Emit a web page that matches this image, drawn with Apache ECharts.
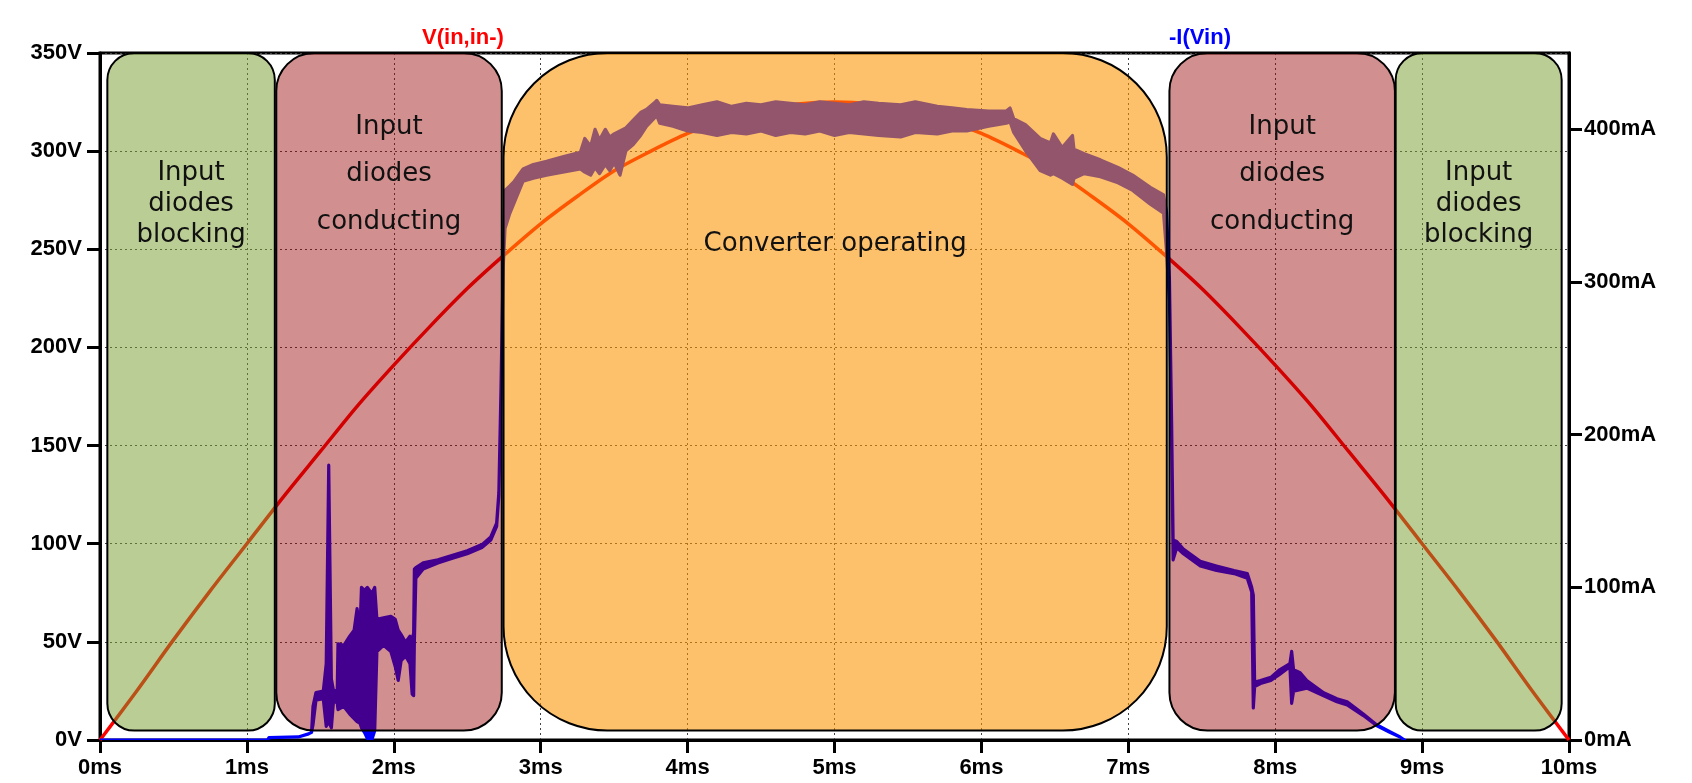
<!DOCTYPE html>
<html><head><meta charset="utf-8">
<script src="https://cdn.jsdelivr.net/npm/echarts@6/dist/echarts.min.js"></script>
<style>html,body{margin:0;padding:0;background:#fff}#c{width:1692px;height:783px}</style>
</head><body><div id="c"></div>
<script>
// ---- data ----
// input voltage V(in,in-) [V] vs time [ms]
const vTime = [0,0.25,0.5,0.75,1,1.25,1.5,1.75,2,2.25,2.5,2.75,3,3.25,3.5,3.75,4,4.25,4.5,4.75,5,
               5.25,5.5,5.75,6,6.25,6.5,6.75,7,7.25,7.5,7.75,8,8.25,8.5,8.75,9,9.25,9.5,9.75,10];
const vVolt = [0,25,51,76,100,124,147,170,191,211,230,247,263,277,290,300,309,316,321,324,325,
               324,321,316,309,300,290,277,263,247,230,211,191,170,147,124,100,76,51,25,0];

// input current -I(Vin) [mA]: lower and upper edge of the drawn (noisy) trace
const iTime = [0,1.14,1.15,1.35,1.42,1.44,1.45,1.47,1.52,1.54,1.557,1.575,1.59,1.615,1.62,1.66,1.70,1.73,1.75,1.77,1.78,1.80,1.82,1.85,1.87,1.885,1.93,1.98,2.01,2.03,2.05,2.08,2.11,2.125,2.135,2.14,2.15,2.20,2.30,2.40,2.50,2.60,2.66,2.70,2.715,2.73,2.745,2.757,2.79,2.82,2.88,2.95,3.04,3.15,3.27,3.30,3.34,3.37,3.40,3.44,3.47,3.50,3.54,3.58,3.63,3.68,3.72,3.78,3.79,3.81,3.90,4.00,4.10,4.20,4.30,4.40,4.50,4.60,4.70,4.80,4.90,5.00,5.10,5.20,5.30,5.45,5.55,5.70,5.80,5.90,6.05,6.17,6.195,6.22,6.30,6.40,6.47,6.49,6.55,6.62,6.63,6.70,6.81,6.93,7.03,7.15,7.24,7.26,7.28,7.295,7.305,7.33,7.375,7.49,7.60,7.72,7.81,7.84,7.851,7.86,7.90,7.97,8.03,8.10,8.112,8.125,8.17,8.215,8.33,8.42,8.49,8.60,8.69,8.78,8.85,8.88];
const iLow  = [0,0,1.5,2,4,5,10,26,27,9,12,8,26,24,20,22,17,14,12,11,8,5,1,0,6,58,62,58,48,39,52,55,50,30,29,64,106,112,116,119,122,126,131,140,160,230,310,335,345,352,366,368,370,372,374,372,370,375,371,377,373,378,370,386,390,396,402,408,409,404,402,399,398,396,398,397,399,396,398,397,399,396,398,397,396,395,398,397,399,399,402,404,405,398,386,373,370,371,368,364,368,371,369,365,360,351,345,320,288,200,118,126,122,114,111,109,106,97,21,35,37,39,43,48,24,32,33,34,29,25,23,16,9.5,5,2,0];
const iHigh = [0,0,1.5,2,4,5,22,31,32,50,180,40,32,33,63,62,68,72,86,72,100,98,100,96,100,79,80,81,79,72,69,64,68,66,70,112,113,116,118,121,124,128,133,142,162,232,315,360,363,366,374,377,379,382,385,394,389,400,393,400,395,397,399,401,406,411,413,418,419,416,415,414,416,418,415,417,416,418,417,416,418,417,416,418,417,416,418,415,414,413,412,412,414,407,403,394,391,397,388,396,387,384,380,375,370,362,357,346,302,207,131,130,125,117,114,111,109,100,95,38,39,41,46,50,58,46,44,39,31,27,25,17,10,5.5,2,0];

// operating phases shown as shaded boxes
const boxStart = [0.05, 1.2, 2.747, 7.28, 8.82];
const boxEnd   = [1.19, 2.735, 7.262, 8.815, 9.95];
const boxLabel = ['Input\ndiodes\nblocking','Input\ndiodes\nconducting','Converter operating','Input\ndiodes\nconducting','Input\ndiodes\nblocking'];
const boxKind  = ['blocking','conducting','operating','conducting','blocking'];

// tick labels
const timeTicks = [0,1,2,3,4,5,6,7,8,9,10];
const voltTicks = [0,50,100,150,200,250,300,350];
const currTicks = [0,100,200,300,400];

// ---- styles ----
const BOX_BOTTOM = 4.8, BOX_TOP = 350;
const KIND_STYLE = {
  blocking:   {fill:'rgba(120,157,45,0.51)', r:27,  labelV:273, lh:31},
  conducting: {fill:'rgba(152,0,0,0.44)',   r:38,  labelV:288, lh:47.5},
  operating:  {fill:'rgba(252,147,0,0.58)', r:104, labelV:252.5, lh:30}
};
const AX_FONT = {fontFamily:'Liberation Sans', fontWeight:'bold', fontSize:22, color:'#000'};
const GRID_LINE = {show:true, lineStyle:{color:'#444', width:1, type:[2,3]}};

const chart = echarts.init(document.getElementById('c'), null, {renderer:'canvas'});

function renderBox(params, api) {
  const i = params.dataIndex;
  const st = KIND_STYLE[boxKind[i]];
  const p0 = api.coord([api.value(0), api.value(3)]);
  const p1 = api.coord([api.value(1), api.value(2)]);
  const cx = (p0[0] + p1[0]) / 2;
  const ty = api.coord([api.value(0), st.labelV])[1];
  return {
    type:'group',
    children:[
      {type:'rect', shape:{x:p0[0], y:p0[1], width:p1[0]-p0[0], height:p1[1]-p0[1], r:st.r},
       style:{fill:st.fill, stroke:'#000', lineWidth:2}},
      {type:'text', x:cx, y:ty,
       style:{text:boxLabel[i], fill:'#111', fontFamily:'DejaVu Sans', fontSize:26,
              align:'center', verticalAlign:'middle', lineHeight:st.lh}}
    ]
  };
}

// current trace: band between lower and upper edge, drawn once through the axis scales
function renderCurrent(params, api) {
  if (params.dataIndex !== 0) return null;
  const upper = iTime.map((t, i) => api.coord([t, iHigh[i]]));
  const lower = iTime.map((t, i) => api.coord([t, iLow[i]])).reverse();
  return {
    type:'polygon',
    shape:{points: upper.concat(lower)},
    style:{fill:'#0000ff', stroke:'#0000ff', lineWidth:3.2, lineJoin:'round'}
  };
}

chart.setOption({
  animation:false,
  backgroundColor:'#fff',
  grid:{left:100, right:123, top:53, bottom:43, show:true, borderColor:'#000', borderWidth:3, backgroundColor:'transparent'},
  graphic:[
    {type:'text', x:463, y:38, z:10, style:{text:'V(in,in-)', fill:'#ff0000', fontFamily:'Liberation Sans', fontWeight:'bold', fontSize:22, align:'center', verticalAlign:'middle'}},
    {type:'text', x:1200, y:38, z:10, style:{text:'-I(Vin)', fill:'#0000ff', fontFamily:'Liberation Sans', fontWeight:'bold', fontSize:22, align:'center', verticalAlign:'middle'}}
  ],
  xAxis:{type:'value', min:timeTicks[0], max:timeTicks[timeTicks.length-1], interval:1,
    axisLine:{show:true, onZero:false, lineStyle:{color:'#000', width:3}},
    axisTick:{show:true, inside:false, length:13, lineStyle:{color:'#000', width:3}},
    axisLabel:Object.assign({margin:17, formatter:v=>v+'ms'}, AX_FONT),
    splitLine:GRID_LINE},
  yAxis:[
    {type:'value', min:voltTicks[0], max:voltTicks[voltTicks.length-1], interval:50,
     axisLine:{show:true, onZero:false, lineStyle:{color:'#000', width:3}},
     axisTick:{show:true, inside:false, length:13, lineStyle:{color:'#000', width:3}},
     axisLabel:Object.assign({margin:18, formatter:v=>v+'V'}, AX_FONT),
     splitLine:GRID_LINE},
    {type:'value', min:0, max:450, position:'right',
     axisLine:{show:true, onZero:false, lineStyle:{color:'#000', width:3}},
     axisTick:{show:true, inside:false, length:13, customValues:currTicks, lineStyle:{color:'#000', width:3}},
     axisLabel:Object.assign({margin:15, customValues:currTicks, formatter:v=>v+'mA'}, AX_FONT),
     splitLine:{show:false}}
  ],
  series:[
    {type:'line', name:'V(in,in-)', data:vTime.map((t,i)=>[t,vVolt[i]]), smooth:0.3, symbol:'none',
     lineStyle:{color:'#ff0000', width:3.5}, z:2},
    {type:'custom', name:'-I(Vin)', yAxisIndex:1, renderItem:renderCurrent, z:3, clip:true,
     encode:{x:0, y:[1,2]},
     data:iTime.map((t,i)=>[t, iLow[i], iHigh[i]])},
    {type:'custom', name:'phases', renderItem:renderBox, z:5, clip:false,
     encode:{x:[0,1], y:[2,3]},
     data:boxStart.map((s,i)=>[s, boxEnd[i], BOX_BOTTOM, BOX_TOP])}
  ]
});
</script></body></html>
